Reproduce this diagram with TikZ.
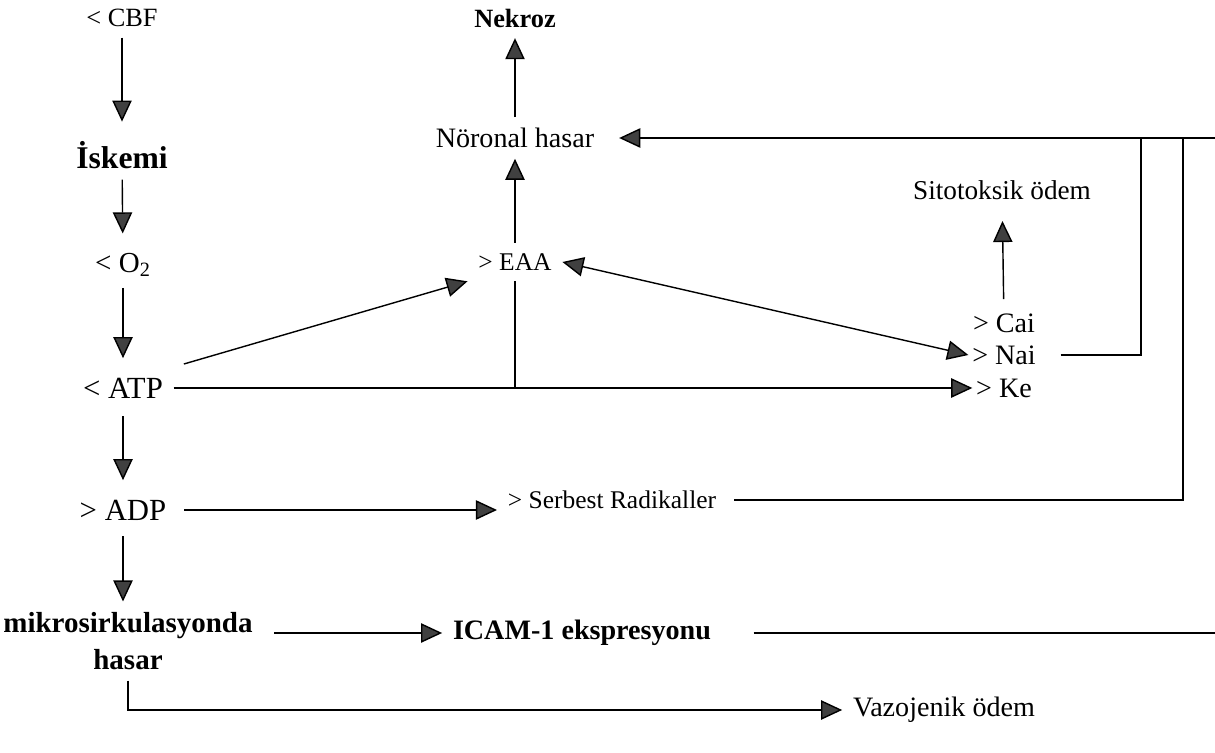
\documentclass[tikz,border=0pt]{standalone}
\usepackage{fontspec}
\setmainfont{Liberation Serif}
\usetikzlibrary{arrows.meta,positioning,calc}
\tikzstyle{lbl}=[inner sep=6pt]
\tikzstyle{arr}=[-{Triangle[length=12pt,width=11pt,fill=black!75]},line width=.8pt]
\tikzstyle{dbl}=[{Triangle[length=12pt,width=11pt,fill=black!75]}-{Triangle[length=12pt,width=11pt,fill=black!75]},line width=.8pt]
\tikzstyle{wire}=[line width=.8pt]
\tikzstyle{down}=[arr,shorten >=5pt]
\tikzset{x=.02cm}
\tikzset{y=-.02cm}
\newcommand{\fsz}[1]{\fontsize{#1}{20}\selectfont}
\begin{document}
\begin{tikzpicture}
  \useasboundingbox (0,0) rectangle (1215,753);
  %% left column
  \draw (122,18) node[lbl,font=\fsz{15}] (cbf) {< CBF};
  \draw (122,155) node[lbl,font=\bfseries\fsz{18}] (isk) {İskemi};
  \draw (123,265) node[lbl,font=\fsz{16.5}] (oxy) {< O\textsubscript{2}};
  \draw (123,388) node[lbl,font=\fsz{17.5}] (atp) {< ATP};
  \draw (123,510) node[lbl,font=\fsz{17.5}] (adp) {> ADP};
  \draw (128,641) node[lbl,align=center,font=\bfseries\fontsize{16.5}{21}\selectfont] (mik) {mikrosirkulasyonda\\hasar};

  %% middle
  \draw (515,18) node[lbl,font=\bfseries\fsz{15}] (nek) {Nekroz};
  \draw (515,138) node[lbl,font=\fsz{16}] (nor) {Nöronal hasar};
  \draw (515,262) node[lbl,font=\fsz{14.5}] (eaa) {> EAA};
  \draw (612,500) node[lbl,font=\fsz{14.5}] (serb) {> Serbest Radikaller};
  \draw (582,633) node[lbl,font=\bfseries\fsz{16}] (icam) {ICAM-1 ekspresyonu};
  \draw (944,710) node[lbl,font=\fsz{16}] (vaz) {Vazojenik ödem};

  %% ions
  \draw (1002,190) node[lbl,font=\fsz{15.5}] (sito) {Sitotoksik ödem};
  \draw (1004,323) node[inner sep=2pt,font=\fsz{16}] (cai) {> Cai};
  \draw (1004,355) node[inner sep=2pt,font=\fsz{16}] (nai) {> Nai};
  \draw (1004,388) node[inner sep=2pt,font=\fsz{16}] (ke) {> Ke};

  %% right side joints
  \coordinate (tr) at (1215,138);
  \coordinate (j1) at (1141,138);
  \coordinate (j2) at (1183,138);
  \coordinate (ir) at (1215,633);

  \draw[down] (cbf) -- (isk);
  \draw[down] (isk) -- (oxy);
  \draw[down] (oxy) -- (atp);
  \draw[down,shorten <=4pt] (atp) -- (adp);
  \draw[arr,shorten <=3pt] (adp.south) -- (adp.south |- mik.north);

  \draw[arr,shorten <=6pt] (atp.north east) -- (eaa.south west);
  \draw[arr] (atp.east) -- (atp.east -| ke.west);
  \draw[wire] (eaa.south) -- (eaa.south |- atp.east);
  \draw[dbl] (eaa.east) -- (nai.west);
  \draw[arr] (eaa) -- (nor);
  \draw[arr] (nor) -- (nek);
  \draw[arr,shorten <=6pt,shorten >=6pt] (cai) -- (sito);

  \draw[arr,shorten <=4pt] (adp.east) -- (adp.east -| serb.west);
  \draw[arr,shorten <=6pt] (icam.west -| mik.east) -- (icam.west);
  \draw[arr] (mik.south) |- (vaz.west);

  \draw[arr,shorten >=8pt] (tr) -- (nor);
  \draw[wire,shorten <=12pt] (nai.east) -| (j1);
  \draw[wire,shorten <=4pt] (serb.east) -| (j2);
  \draw[wire,shorten <=18pt] (icam.east) -- (ir);
\end{tikzpicture}
\end{document}
